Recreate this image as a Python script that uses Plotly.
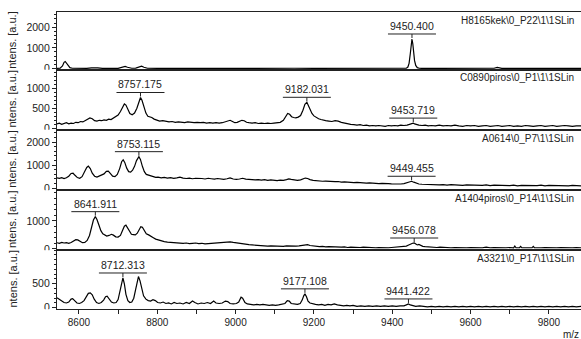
import plotly.graph_objects as go
from plotly.subplots import make_subplots

# ---- spectra (m/z, intensity in a.u.) ----
h8165_mz = [8544, 8552, 8558, 8562, 8565, 8568, 8572, 8577, 8583, 8595, 8620, 8632, 8640, 8648, 8660,
            8672, 8676, 8682, 8700, 8712, 8718, 8724, 8735, 8745, 8755, 8760, 8766, 8775, 8800, 8850,
            8900, 8950, 9000, 9050, 9100, 9150, 9200, 9250, 9300, 9350, 9400, 9430, 9436, 9440, 9443,
            9446, 9448, 9450.4, 9452.5, 9455, 9457, 9460, 9464, 9469, 9475, 9520, 9600, 9660, 9668,
            9672, 9680, 9750, 9800, 9882]
h8165_int = [0, 10, 120, 300, 340, 260, 120, 40, 10, 0, 5, 30, 40, 25, 0,
             15, 25, 10, 5, 60, 100, 60, 10, 20, 90, 110, 60, 10, 0, 5,
             0, 5, 0, 5, 0, 10, 0, 5, 0, 0, 0, 0, 15, 70, 250,
             700, 1150, 1430, 1200, 700, 380, 150, 40, 10, 0, 0, 5, 10, 50,
             40, 5, 0, 5, 0]

c0890_mz = [8544, 8550, 8556, 8562, 8568, 8574, 8580, 8586, 8592, 8598, 8604, 8610, 8616, 8622, 8628,
            8634, 8640, 8646, 8652, 8658, 8664, 8670, 8676, 8682, 8688, 8694, 8700, 8706, 8712, 8716,
            8720, 8725, 8730, 8736, 8742, 8748, 8753, 8757.175, 8761, 8766, 8771, 8776, 8781, 8786,
            8792, 8798, 8806, 8814, 8822, 8830, 8838, 8846, 8854, 8862, 8870, 8878, 8886, 8894, 8902,
            8910, 8918, 8926, 8934, 8942, 8950, 8958, 8966, 8974, 8980, 8986, 8992, 8998, 9004, 9010,
            9016, 9022, 9028, 9034, 9042, 9050, 9058, 9066, 9074, 9082, 9090, 9098, 9106, 9114, 9122,
            9128, 9133, 9138, 9143, 9148, 9154, 9160, 9166, 9172, 9177, 9182.031, 9186, 9190, 9195,
            9200, 9206, 9212, 9218, 9224, 9230, 9238, 9246, 9254, 9262, 9270, 9278, 9286, 9294, 9302,
            9310, 9318, 9326, 9334, 9342, 9350, 9358, 9366, 9374, 9382, 9390, 9398, 9406, 9414, 9422,
            9430, 9438, 9445, 9450, 9453.719, 9457, 9462, 9468, 9476, 9484, 9492, 9500, 9510, 9520,
            9530, 9540, 9550, 9560, 9570, 9580, 9590, 9600, 9610, 9620, 9630, 9640, 9650, 9660, 9670,
            9680, 9690, 9700, 9710, 9720, 9730, 9740, 9750, 9760, 9770, 9780, 9790, 9800, 9810, 9820,
            9830, 9840, 9850, 9860, 9870, 9882]
c0890_int = [110, 130, 100, 120, 140, 110, 130, 120, 150, 140, 170, 160, 190, 230, 260,
             240, 190, 180, 200, 190, 210, 200, 230, 220, 250, 280, 330, 420, 560, 610,
             580, 460, 370, 340, 380, 500, 680, 770, 700, 520, 380, 300, 290, 270,
             230, 200, 180, 190, 170, 160, 170, 150, 160, 150, 140, 160, 150, 140, 150,
             140, 150, 130, 140, 130, 140, 130, 140, 160, 190, 200, 170, 140, 150, 170,
             200, 190, 150, 140, 130, 140, 120, 130, 120, 130, 120, 130, 140, 150, 200,
             290, 370, 350, 290, 270, 260, 280, 320, 450, 600, 650, 560, 450, 370,
             310, 270, 240, 220, 200, 190, 180, 170, 190, 180, 150, 130, 120, 100, 90,
             80, 90, 70, 80, 60, 70, 60, 70, 60, 50, 70, 60, 70, 60, 80,
             70, 80, 100, 120, 130, 110, 90, 80, 70, 80, 60, 70, 60, 80,
             60, 70, 60, 80, 60, 50, 70, 60, 70, 50, 60, 70, 50, 60, 70,
             50, 60, 70, 50, 60, 50, 70, 60, 50, 60, 70, 50, 60, 70, 50,
             60, 70, 60, 50, 60, 60]

a0614_mz = [8544, 8550, 8556, 8562, 8568, 8574, 8580, 8585, 8590, 8596, 8602, 8608, 8614, 8620, 8624,
            8629, 8634, 8640, 8646, 8652, 8658, 8664, 8670, 8675, 8680, 8686, 8692, 8698, 8704, 8709,
            8713, 8717, 8722, 8727, 8732, 8737, 8742, 8747, 8753.115, 8757, 8762, 8767, 8772, 8778,
            8784, 8790, 8796, 8802, 8810, 8818, 8826, 8834, 8842, 8850, 8858, 8866, 8874, 8882, 8890,
            8898, 8906, 8914, 8922, 8930, 8938, 8946, 8954, 8962, 8970, 8978, 8986, 8994, 9002, 9010,
            9018, 9026, 9034, 9042, 9050, 9058, 9066, 9074, 9082, 9090, 9098, 9106, 9114, 9122, 9130,
            9136, 9142, 9150, 9158, 9166, 9172, 9178, 9184, 9190, 9198, 9206, 9214, 9222, 9230, 9238,
            9246, 9254, 9262, 9270, 9278, 9286, 9294, 9302, 9310, 9318, 9326, 9334, 9342, 9350, 9358,
            9366, 9374, 9382, 9390, 9398, 9406, 9414, 9422, 9430, 9437, 9443, 9449.455, 9455, 9461,
            9468, 9476, 9484, 9492, 9500, 9510, 9520, 9530, 9540, 9550, 9560, 9570, 9580, 9590, 9600,
            9610, 9620, 9630, 9640, 9650, 9660, 9670, 9680, 9690, 9700, 9710, 9720, 9730, 9740, 9750,
            9760, 9770, 9780, 9790, 9800, 9810, 9820, 9830, 9840, 9850, 9860, 9870, 9882]
a0614_int = [450, 430, 460, 420, 450, 520, 640, 650, 560, 460, 430, 500, 700, 900, 960,
             850, 650, 520, 480, 520, 560, 620, 730, 740, 640, 520, 500, 600, 850, 1150,
             1230, 1120, 870, 720, 700, 780, 950, 1200, 1370, 1250, 950, 720, 600, 560,
             530, 510, 470, 480, 450, 470, 440, 460, 430, 450, 480, 440, 420, 440, 410,
             430, 440, 420, 400, 430, 410, 390, 420, 400, 380, 410, 450, 400, 380, 400,
             430, 390, 370, 380, 360, 370, 350, 370, 340, 360, 340, 330, 350, 340, 370,
             400, 380, 360, 340, 360, 400, 440, 420, 370, 340, 320, 330, 300, 310, 290,
             300, 280, 290, 260, 270, 250, 260, 240, 250, 230, 240, 220, 230, 210, 220,
             200, 210, 190, 200, 190, 180, 190, 180, 200, 230, 280, 300, 260, 210,
             180, 170, 160, 170, 150, 160, 140, 150, 130, 150, 130, 140, 120, 140, 130,
             110, 130, 120, 140, 110, 130, 120, 100, 120, 110, 130, 100, 120, 110, 100,
             120, 110, 130, 100, 120, 110, 100, 120, 110, 100, 120, 110, 100]

a1404_mz = [8544, 8550, 8556, 8562, 8568, 8574, 8580, 8586, 8592, 8597, 8603, 8609, 8615, 8621, 8627,
            8632, 8637, 8641.911, 8646, 8651, 8656, 8661, 8666, 8671, 8677, 8683, 8688, 8694, 8700,
            8706, 8711, 8716, 8720, 8724, 8729, 8734, 8739, 8744, 8749, 8754, 8758, 8762, 8767, 8772,
            8778, 8784, 8790, 8796, 8802, 8810, 8818, 8826, 8834, 8842, 8850, 8858, 8866, 8874, 8882,
            8890, 8898, 8906, 8914, 8922, 8930, 8938, 8946, 8954, 8962, 8970, 8978, 8986, 8994, 9002,
            9010, 9018, 9026, 9034, 9042, 9050, 9058, 9066, 9074, 9082, 9090, 9098, 9106, 9114, 9122,
            9130, 9138, 9146, 9154, 9162, 9170, 9178, 9184, 9190, 9198, 9206, 9214, 9222, 9230, 9238,
            9246, 9254, 9262, 9270, 9278, 9286, 9294, 9302, 9310, 9318, 9326, 9334, 9342, 9350, 9358,
            9366, 9374, 9382, 9390, 9398, 9406, 9414, 9422, 9430, 9436, 9442, 9447, 9452, 9456.078,
            9460, 9464, 9468, 9473, 9478, 9484, 9490, 9498, 9506, 9514, 9522, 9530, 9540, 9550, 9560,
            9570, 9580, 9590, 9600, 9610, 9620, 9630, 9640, 9650, 9660, 9670, 9680, 9690, 9700, 9710,
            9713, 9716, 9725, 9728, 9731, 9740, 9750, 9757, 9760, 9763, 9770, 9780, 9790, 9800, 9810,
            9820, 9830, 9840, 9850, 9860, 9870, 9882]
a1404_int = [220, 200, 230, 210, 220, 200, 230, 290, 330, 320, 260, 220, 230, 300, 480,
             750, 1030, 1150, 1050, 850, 650, 540, 490, 460, 480, 520, 490, 430, 420,
             480, 650, 810, 850, 760, 600, 520, 510, 500, 560, 700, 790, 770, 640, 540,
             500, 460, 400, 350, 320, 290, 260, 240, 230, 220, 210, 220, 200, 210, 190,
             200, 210, 190, 200, 180, 190, 200, 190, 210, 220, 230, 240, 250, 230, 210,
             200, 180, 160, 150, 140, 130, 120, 110, 110, 100, 110, 100, 90, 100, 90,
             110, 100, 90, 100, 110, 120, 140, 150, 120, 100, 90, 80, 90, 70, 80,
             70, 60, 70, 60, 70, 50, 60, 50, 60, 50, 60, 50, 40, 50, 40,
             50, 40, 50, 40, 50, 60, 60, 70, 80, 100, 140, 180, 200, 210,
             170, 140, 160, 120, 90, 80, 70, 60, 70, 50, 60, 50, 60, 40, 50,
             40, 50, 40, 50, 40, 50, 40, 60, 40, 50, 40, 50, 40, 50, 40,
             100, 40, 40, 90, 40, 50, 40, 40, 90, 40, 50, 40, 50, 40, 50,
             40, 50, 40, 50, 40, 50, 40]

a3321_mz = [8544, 8550, 8556, 8562, 8568, 8574, 8580, 8584, 8589, 8595, 8601, 8607, 8613, 8619, 8624,
            8629, 8634, 8639, 8645, 8651, 8657, 8663, 8668, 8672, 8677, 8683, 8689, 8695, 8700, 8705,
            8709, 8712.313, 8716, 8720, 8725, 8730, 8735, 8740, 8745, 8749, 8752, 8756, 8760, 8765,
            8771, 8777, 8783, 8789, 8795, 8801, 8808, 8815, 8822, 8829, 8836, 8843, 8850, 8858, 8866,
            8874, 8882, 8890, 8896, 8904, 8912, 8920, 8928, 8936, 8944, 8950, 8958, 8966, 8974, 8980,
            8986, 8994, 9002, 9008, 9014, 9018, 9024, 9030, 9038, 9046, 9054, 9062, 9070, 9078, 9086,
            9094, 9102, 9110, 9118, 9126, 9132, 9137, 9142, 9150, 9158, 9165, 9170, 9174, 9177.108,
            9181, 9185, 9190, 9196, 9204, 9212, 9220, 9228, 9236, 9244, 9252, 9260, 9268, 9276, 9284,
            9292, 9300, 9310, 9320, 9330, 9340, 9350, 9360, 9370, 9380, 9390, 9400, 9410, 9420, 9430,
            9436, 9441.422, 9446, 9452, 9460, 9470, 9480, 9490, 9500, 9510, 9520, 9530, 9540, 9550,
            9560, 9570, 9580, 9590, 9600, 9610, 9620, 9630, 9640, 9650, 9660, 9670, 9680, 9690, 9700,
            9710, 9720, 9730, 9740, 9750, 9760, 9770, 9780, 9790, 9800, 9810, 9820, 9830, 9840, 9850,
            9860, 9870, 9882]
a3321_int = [210, 180, 140, 110, 100, 120, 180, 190, 150, 100, 90, 110, 150, 240, 300,
             310, 270, 180, 110, 90, 110, 160, 230, 240, 190, 120, 100, 110, 170, 330,
             520, 620, 500, 280, 150, 110, 120, 200, 390, 580, 650, 560, 390, 250,
             180, 150, 140, 170, 150, 110, 100, 120, 90, 100, 80, 110, 90, 100, 80,
             110, 90, 140, 110, 80, 100, 90, 110, 90, 140, 100, 90, 100, 140, 130,
             90, 80, 90, 120, 220, 200, 110, 80, 70, 60, 70, 60, 70, 60, 50,
             60, 50, 60, 70, 90, 150, 140, 90, 80, 70, 90, 160, 250, 290,
             230, 140, 100, 80, 70, 60, 70, 50, 70, 60, 80, 60, 50, 40, 50,
             40, 50, 30, 40, 30, 40, 30, 40, 30, 40, 30, 40, 30, 40, 40,
             60, 80, 60, 40, 30, 40, 30, 20, 30, 20, 30, 20, 30, 20,
             30, 20, 30, 20, 30, 20, 30, 20, 30, 20, 30, 20, 30, 20, 30,
             20, 30, 20, 30, 20, 30, 20, 30, 20, 30, 20, 30, 20, 30, 20,
             30, 20, 30]

# ---- panel metadata ----
spectra = [
    ("H8165kek\\0_P22\\1\\1SLin", h8165_mz, h8165_int),
    ("C0890piros\\0_P1\\1\\1SLin", c0890_mz, c0890_int),
    ("A0614\\0_P7\\1\\1SLin", a0614_mz, a0614_int),
    ("A1404piros\\0_P14\\1\\1SLin", a1404_mz, a1404_int),
    ("A3321\\0_P17\\1\\1SLin", a3321_mz, a3321_int),
]
peak_labels = [
    [9450.400],
    [8757.175, 9182.031, 9453.719],
    [8753.115, 9449.455],
    [8641.911, 9456.078],
    [8712.313, 9177.108, 9441.422],
]
y_ranges = [[-50, 2739], [-30, 1470], [-80, 2552], [-40, 2102], [-25, 1202]]
y_ticks = [[0, 1000, 2000], [0, 500, 1000], [0, 1000, 2000], [0, 1000], [0, 500]]
y_minor = [200, 100, 200, 200, 100]
x_range = [8544, 9882]
x_ticks = [8600, 8800, 9000, 9200, 9400, 9600, 9800]

# page geometry (pixels)
W, H = 581, 339
ML, MR, MT, MB = 57, 0, 12, 30
PH = H - MT - MB
PW = W - ML - MR
edges_px = [12, 69.5, 129.5, 190, 250, 309]
domains = [[(H - MB - edges_px[i + 1]) / PH, (H - MB - edges_px[i]) / PH] for i in range(5)]


def px_x(p):
    return (p - ML) / PW


def px_y(p):
    return (H - MB - p) / PH


FONT = "Liberation Sans, Arial, sans-serif"
LINE_C = "#222222"

fig = make_subplots(rows=5, cols=1, shared_xaxes=True, vertical_spacing=0)

for i, (name, mz, inten) in enumerate(spectra):
    r = i + 1
    fig.add_trace(go.Scatter(x=mz, y=inten, mode="lines",
                             line=dict(color="black", width=1.2),
                             showlegend=False, hoverinfo="skip"), row=r, col=1)
    xa = "xaxis" if r == 1 else f"xaxis{r}"
    ya = "yaxis" if r == 1 else f"yaxis{r}"
    last = r == 5
    fig.layout[xa].update(
        range=x_range, showline=True, mirror=True, linecolor=LINE_C, linewidth=1.3,
        showgrid=False, zeroline=False,
        showticklabels=last, ticks="outside" if last else "",
        tickvals=x_ticks if last else None, tickformat="d",
        ticklen=4, tickwidth=1, tickcolor=LINE_C,
        minor=dict(dtick=100, tick0=8600, ticks="outside" if last else "", ticklen=4,
                   tickwidth=1, tickcolor=LINE_C),
        tickfont=dict(family=FONT, size=10, color="#222"),
    )
    fig.layout[ya].update(
        domain=domains[i], range=y_ranges[i], showline=True, mirror=False,
        linecolor=LINE_C, linewidth=1.2, showgrid=False, zeroline=False,
        tickvals=y_ticks[i], tickformat="d", ticks="outside", ticklen=4, tickwidth=1,
        tickcolor=LINE_C,
        minor=dict(dtick=y_minor[i], tick0=0, ticks="outside", ticklen=2,
                   tickwidth=1, tickcolor=LINE_C),
        tickfont=dict(family=FONT, size=10.5, color="#222"),
    )

    xref = "x" if r == 1 else f"x{r}"
    yref = "y" if r == 1 else f"y{r}"

    # spectrum name, top-right of the panel
    fig.add_annotation(xref="paper", yref="paper", x=1 - 5 / PW, y=domains[i][1],
                       xanchor="right", yanchor="top", yshift=-1, showarrow=False,
                       text=name, font=dict(family=FONT, size=10, color="#222"))

    # axis title, repeated for each panel
    fig.add_annotation(xref="paper", yref="paper", x=px_x(12),
                       y=(domains[i][0] + domains[i][1]) / 2, textangle=-90,
                       xanchor="center", yanchor="middle", showarrow=False,
                       text="ntens. [a.u.]", font=dict(family=FONT, size=11, color="#222"))

    # the zero label of each panel is cut at the panel's lower edge
    fig.add_shape(type="rect", xref="paper", yref="paper", layer="above",
                  x0=px_x(30), x1=px_x(52.5), y0=px_y(edges_px[i + 1] + 7),
                  y1=px_y(edges_px[i + 1] + 0.2), fillcolor="white", line=dict(width=0))

    # peak labels: value above an underline with a short tick to the apex
    for m in peak_labels[i]:
        k = min(range(len(mz)), key=lambda j: abs(mz[j] - m))
        apex = inten[k]
        fig.add_annotation(xref=xref, yref=yref, x=m, y=apex, yshift=5,
                           xanchor="center", yanchor="bottom", showarrow=False,
                           text=f"{m:.3f}", font=dict(family=FONT, size=10.5, color="#222"))
        fig.add_shape(type="line", xref=xref, yref=yref, xsizemode="pixel",
                      ysizemode="pixel", xanchor=m, yanchor=apex,
                      x0=-24, x1=24, y0=5, y1=5, line=dict(color=LINE_C, width=1))
        fig.add_shape(type="line", xref=xref, yref=yref, xsizemode="pixel",
                      ysizemode="pixel", xanchor=m, yanchor=apex,
                      x0=0, x1=0, y0=1, y1=5, line=dict(color=LINE_C, width=1))

# x-axis unit label
fig.add_annotation(xref="paper", yref="paper", x=px_x(571), y=px_y(334),
                   xanchor="center", yanchor="middle", showarrow=False,
                   text="m/z", font=dict(family=FONT, size=10, color="#222"))

fig.update_layout(
    width=W, height=H, margin=dict(l=ML, r=MR, t=MT, b=MB),
    paper_bgcolor="white", plot_bgcolor="white",
    font=dict(family=FONT, color="#222"),
)

fig.write_html("out.html")
